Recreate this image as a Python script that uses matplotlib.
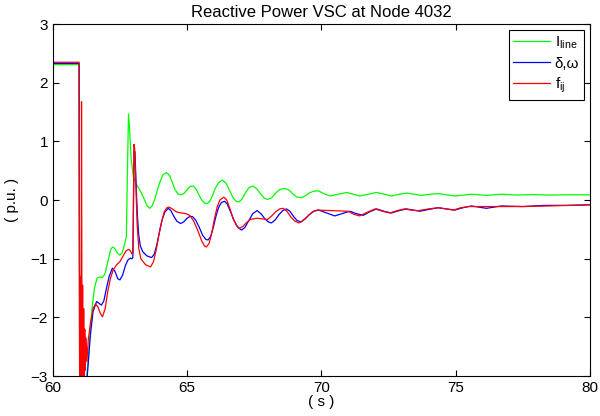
import numpy as np
import matplotlib
matplotlib.use('Agg')
import matplotlib.pyplot as plt

plt.rcParams['font.family'] = ['Liberation Sans', 'DejaVu Sans']
plt.rcParams['mathtext.fontset'] = 'custom'
plt.rcParams['mathtext.rm'] = 'Liberation Sans'
plt.rcParams['mathtext.it'] = 'Liberation Sans:italic'

#I_line (green)
t_green = [60.0, 60.98, 61.0, 61.25, 61.35, 61.45, 61.55, 61.65, 61.75, 61.85, 61.95, 62.05,
           62.15, 62.22, 62.3, 62.4, 62.5, 62.58, 62.66, 62.74, 62.78, 62.82,
           62.86, 62.92, 63.0, 63.1, 63.2, 63.3, 63.4, 63.5, 63.61, 63.7, 63.8, 63.9, 64.0,
           64.1, 64.23, 64.35, 64.45, 64.55, 64.67, 64.79, 64.9, 65.0, 65.12, 65.23, 65.35,
           65.45, 65.55, 65.65, 65.75, 65.85, 65.95, 66.05, 66.18, 66.32, 66.45, 66.58, 66.7,
           66.82, 66.94, 67.05, 67.17, 67.3, 67.46, 67.6, 67.75, 67.88, 68.0, 68.15, 68.3,
           68.45, 68.64, 68.8, 68.95, 69.1, 69.26, 69.4, 69.55, 69.7, 69.88, 70.1, 70.32,
           70.63, 70.94, 71.2, 71.43, 71.75, 72.06, 72.35, 72.61, 72.9, 73.17, 73.45, 73.73,
           74.05, 74.35, 74.65, 74.97, 75.3, 75.59, 75.87, 76.15, 76.43, 76.71, 77.3, 77.9,
           78.5, 79.1, 80.0]
v_green = [2.31, 2.31, -3.3, -3.1, -2.5, -1.9, -1.5, -1.33, -1.31, -1.32, -1.25, -1.05,
           -0.85, -0.80, -0.82, -0.9, -0.94, -0.9, -0.78, -0.62, 0.5, 1.47,
           1.2, 0.7, 0.4, 0.28, 0.2, 0.12, 0.02, -0.09, -0.14, -0.1, 0.02, 0.18, 0.32,
           0.43, 0.47, 0.42, 0.3, 0.18, 0.1, 0.09, 0.12, 0.18, 0.23, 0.24, 0.18,
           0.08, 0.0, -0.05, -0.06, -0.02, 0.08, 0.2, 0.3, 0.34, 0.29, 0.17, 0.05,
           -0.02, -0.03, 0.02, 0.12, 0.21, 0.24, 0.19, 0.1, 0.03, 0.01, 0.04, 0.12,
           0.18, 0.20, 0.17, 0.1, 0.05, 0.04, 0.07, 0.12, 0.15, 0.16, 0.11, 0.07,
           0.1, 0.13, 0.1, 0.07, 0.1, 0.13, 0.1, 0.07, 0.1, 0.12, 0.1, 0.08,
           0.1, 0.11, 0.09, 0.07, 0.085, 0.10, 0.09, 0.08, 0.09, 0.10, 0.085, 0.095,
           0.085, 0.09, 0.09]

#delta,omega (blue)
t_blue = [60.0, 60.98, 61.0, 61.22, 61.3, 61.4, 61.5, 61.63, 61.72, 61.81, 61.9, 62.0, 62.1,
          62.22, 62.32, 62.42, 62.5, 62.6, 62.7, 62.8, 62.89, 62.95, 62.98, 63.03, 63.06,
          63.1, 63.15, 63.2, 63.26, 63.35, 63.5, 63.68, 63.78, 63.88, 63.98, 64.08, 64.18,
          64.3, 64.4, 64.5, 64.62, 64.76, 64.88, 65.0, 65.1, 65.2, 65.32, 65.45, 65.58, 65.7,
          65.78, 65.88, 65.98, 66.08, 66.18, 66.28, 66.4, 66.5, 66.62, 66.75, 66.9, 67.03,
          67.15, 67.3, 67.45, 67.61, 67.75, 67.9, 68.02, 68.14, 68.28, 68.42, 68.56, 68.7,
          68.83, 68.97, 69.1, 69.24, 69.4, 69.55, 69.72, 69.9, 70.2, 70.5, 70.78, 71.06,
          71.3, 71.56, 71.8, 72.06, 72.33, 72.61, 72.9, 73.17, 73.42, 73.67, 74.0, 74.35,
          74.65, 74.97, 75.28, 75.59, 75.87, 76.15, 76.43, 76.7, 77.5, 78.3, 79.2, 80.0]
v_blue = [2.33, 2.33, -3.3, -3.3, -2.9, -2.3, -1.9, -1.73, -1.76, -1.79, -1.72, -1.5, -1.3,
          -1.16, -1.22, -1.34, -1.36, -1.28, -1.12, -1.02, -0.99, -1.0, -0.98, 0.85, 0.82,
          0.3, -0.25, -0.6, -0.78, -0.88, -0.95, -0.98, -0.92, -0.75, -0.52, -0.32, -0.2,
          -0.14, -0.18, -0.27, -0.36, -0.40, -0.37, -0.31, -0.28, -0.28, -0.34, -0.46, -0.6, -0.67,
          -0.68, -0.62, -0.46, -0.27, -0.12, -0.04, -0.02, -0.07, -0.2, -0.35, -0.47, -0.51,
          -0.47, -0.35, -0.23, -0.18, -0.23, -0.32, -0.37, -0.39, -0.34, -0.25, -0.18, -0.15,
          -0.19, -0.28, -0.35, -0.37, -0.32, -0.25, -0.19, -0.17, -0.22, -0.27, -0.23, -0.19,
          -0.23, -0.26, -0.2, -0.15, -0.19, -0.22, -0.18, -0.15, -0.17, -0.19, -0.16, -0.13,
          -0.15, -0.17, -0.13, -0.10, -0.12, -0.14, -0.12, -0.10, -0.11, -0.09, -0.09, -0.08]

#f_ij (red)
t_red = [60.0, 60.98, 61.0, 61.03, 61.05, 61.07, 61.09, 61.11, 61.13, 61.15, 61.17, 61.19, 61.21,
         61.24, 61.27, 61.32, 61.4, 61.5, 61.59, 61.68, 61.77, 61.85, 61.95, 62.05, 62.15,
         62.25, 62.38, 62.5, 62.62, 62.72, 62.82, 62.88, 62.95, 62.99, 63.02, 63.05, 63.09,
         63.14, 63.2, 63.28, 63.45, 63.64, 63.75, 63.85, 63.95, 64.05, 64.15, 64.25, 64.33,
         64.45, 64.6, 64.79, 64.95, 65.1, 65.25, 65.4, 65.55, 65.65, 65.72, 65.82, 65.92,
         66.02, 66.12, 66.22, 66.37, 66.48, 66.6, 66.72, 66.85, 66.96, 67.08, 67.2, 67.35,
         67.59, 67.8, 68.0, 68.15, 68.3, 68.45, 68.58, 68.72, 68.87, 69.02, 69.17, 69.32,
         69.5, 69.67, 69.85, 70.4, 71.0, 71.2, 71.43, 71.7, 72.0, 72.28, 72.55, 72.82, 73.1,
         73.35, 73.6, 74.0, 74.35, 74.65, 74.92, 75.2, 75.5, 76.5, 77.5, 78.5, 80.0]
v_red = [2.35, 2.35, -3.3, -1.3, -3.3, 1.68, -3.3, -1.45, -3.3, -1.85, -3.1, -2.2, -2.9,
         -2.35, -2.75, -2.39, -2.1, -1.85, -1.77, -1.82, -1.93, -1.99, -1.85, -1.55, -1.33,
         -1.19, -1.1, -1.05, -0.95, -0.87, -0.84, -0.86, -0.92, -0.9, 0.95, 0.88, 0.3,
         -0.4, -0.82, -1.0, -1.1, -1.14, -1.05, -0.85, -0.6, -0.38, -0.2, -0.13, -0.12,
         -0.15, -0.2, -0.22, -0.23, -0.26, -0.36, -0.52, -0.7, -0.78, -0.80, -0.74, -0.56,
         -0.32, -0.12, 0.0, 0.05, 0.0, -0.15, -0.32, -0.44, -0.48, -0.45, -0.39, -0.33,
         -0.31, -0.32, -0.33, -0.27, -0.2, -0.15, -0.14, -0.19, -0.29, -0.36, -0.39, -0.35,
         -0.27, -0.2, -0.17, -0.18, -0.19, -0.24, -0.27, -0.21, -0.15, -0.19, -0.22, -0.18, -0.15,
         -0.17, -0.18, -0.15, -0.13, -0.15, -0.17, -0.13, -0.11, -0.11, -0.11, -0.10, -0.08]

fig = plt.figure(figsize=(6, 4.16), dpi=100)
ax = fig.add_axes([0.088, 0.096, 0.895, 0.846])

ax.plot(t_green, v_green, color=(0, 1, 0), lw=0.9, label=r'$\mathrm{I_{line}}$')
ax.plot(t_blue, v_blue, color=(0, 0, 1), lw=0.9, label='δ,ω')
ax.plot(t_red, v_red, color=(1, 0, 0), lw=0.9, label=r'$\mathrm{f_{ij}}$')

ax.set_xlim(60, 80)
ax.set_ylim(-3, 3)
ax.set_xticks([60, 65, 70, 75, 80])
ax.set_yticks([-3, -2, -1, 0, 1, 2, 3])
ax.tick_params(direction='in', top=True, right=True, length=4.5, labelsize=11, width=0.8)
for s in ax.spines.values():
    s.set_linewidth(0.8)

ax.set_title('Reactive Power VSC at Node 4032', fontsize=12, pad=5)
ax.set_xlabel('( s )', fontsize=11, labelpad=0)
ax.set_ylabel('( p.u. )', fontsize=11, labelpad=8)

leg = ax.legend(loc='upper right', fontsize=11, fancybox=False, framealpha=1,
                edgecolor='black', handlelength=2.4, borderaxespad=0.4,
                labelspacing=0.35, borderpad=0.3, handletextpad=0.3)
leg.get_frame().set_linewidth(0.8)

plt.savefig('out.png', dpi=100)
